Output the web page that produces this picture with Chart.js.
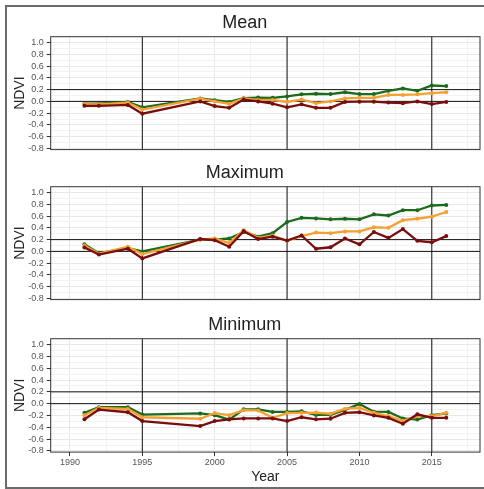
<!DOCTYPE html>
<html>
<head>
<meta charset="utf-8">
<script src="https://cdn.jsdelivr.net/npm/chart.js@4.4.1/dist/chart.umd.min.js"></script>
<style>
  body { margin: 0; background: #fff; width: 484px; height: 489px; overflow: hidden; position: relative; }
  #frame { position: absolute; left: 5px; top: 5px; width: 482px; height: 480px; border: 2px solid #6b6b6b; }
  canvas { position: absolute; left: 7px; }
</style>
</head>
<body>
<div id="frame"></div>
<canvas id="c-mean"></canvas>
<canvas id="c-max"></canvas>
<canvas id="c-min"></canvas>
<script>
// Годы наблюдений
const years = [1991, 1992, 1994, 1995, 1999, 2000, 2001, 2002, 2003, 2004, 2005,
               2006, 2007, 2008, 2009, 2010, 2011, 2012, 2013, 2014, 2015, 2016];

// Mean
const meanGreen  = [-0.04, -0.04, -0.01, -0.10, 0.05, 0.02, -0.01, 0.055, 0.065, 0.06, 0.085,
                    0.12, 0.13, 0.125, 0.155, 0.125, 0.125, 0.18, 0.22, 0.18, 0.27, 0.26];
const meanOrange = [-0.045, -0.05, -0.02, -0.14, 0.045, 0.0, -0.04, 0.05, 0.025, 0.025, -0.01,
                    0.03, -0.03, 0.0, 0.05, 0.06, 0.06, 0.11, 0.11, 0.12, 0.14, 0.155];
const meanRed    = [-0.075, -0.075, -0.06, -0.21, 0.0, -0.08, -0.11, 0.03, 0.0, -0.04, -0.10,
                    -0.05, -0.11, -0.11, -0.01, -0.005, -0.005, -0.02, -0.03, 0.0, -0.045, -0.01];

// Maximum
const maxGreen  = [0.12, -0.03, 0.055, 0.0, 0.2, 0.2, 0.22, 0.33, 0.25, 0.31, 0.5,
                   0.57, 0.56, 0.545, 0.555, 0.545, 0.63, 0.61, 0.70, 0.70, 0.78, 0.79];
const maxOrange = [0.10, -0.04, 0.08, -0.045, 0.2, 0.22, 0.14, 0.36, 0.23, 0.27, 0.18,
                   0.26, 0.32, 0.31, 0.34, 0.34, 0.41, 0.40, 0.53, 0.555, 0.59, 0.67];
const maxRed    = [0.065, -0.055, 0.045, -0.12, 0.21, 0.19, 0.08, 0.345, 0.21, 0.25, 0.185,
                   0.27, 0.045, 0.07, 0.22, 0.12, 0.33, 0.23, 0.38, 0.18, 0.155, 0.26];

// Minimum
const minGreen  = [-0.155, -0.06, -0.06, -0.185, -0.165, -0.195, -0.27, -0.095, -0.095, -0.14, -0.14,
                   -0.13, -0.19, -0.19, -0.105, -0.005, -0.135, -0.14, -0.25, -0.27, -0.195, -0.165];
const minOrange = [-0.195, -0.07, -0.09, -0.23, -0.255, -0.16, -0.195, -0.11, -0.115, -0.24, -0.16,
                   -0.155, -0.15, -0.17, -0.085, -0.07, -0.155, -0.21, -0.29, -0.21, -0.21, -0.155];
const minRed    = [-0.265, -0.10, -0.145, -0.295, -0.38, -0.295, -0.265, -0.25, -0.25, -0.25, -0.295,
                   -0.23, -0.265, -0.255, -0.155, -0.145, -0.20, -0.24, -0.34, -0.18, -0.24, -0.24];

// Оси и опорные линии
const yTicks = [-0.8, -0.6, -0.4, -0.2, 0.0, 0.2, 0.4, 0.6, 0.8, 1.0];
const xTicks = [1990, 1995, 2000, 2005, 2010, 2015];
const refYears = [1995, 2005, 2015];
const refLevels = [0, 0.2];

const colors = { green: '#1c6b1c', orange: '#f4a134', red: '#7a0d0d' };
const FONT = '"Liberation Sans", Arial, sans-serif';

// опорные линии + рамка панели
const refPlugin = {
    id: 'refLines',
    beforeDatasetsDraw(chart) {
        const { ctx, chartArea: a, scales: { x, y } } = chart;
        ctx.save();
        ctx.strokeStyle = '#111';
        ctx.lineWidth = 1;
        refYears.forEach(yr => {
            const px = x.getPixelForValue(yr);
            ctx.beginPath(); ctx.moveTo(px, a.top); ctx.lineTo(px, a.bottom); ctx.stroke();
        });
        refLevels.forEach(v => {
            const py = y.getPixelForValue(v);
            ctx.beginPath(); ctx.moveTo(a.left, py); ctx.lineTo(a.right, py); ctx.stroke();
        });
        ctx.strokeStyle = '#333';
        ctx.strokeRect(a.left, a.top, a.right - a.left, a.bottom - a.top);
        ctx.restore();
    }
};

function series(vals, color) {
    return {
        data: years.map((yr, i) => ({ x: yr, y: vals[i] })),
        borderColor: color,
        backgroundColor: color,
        borderWidth: 2.3,
        pointRadius: 2,
        pointBorderWidth: 0,
        tension: 0
    };
}

function makePanel(id, top, height, title, data, showX) {
    const el = document.getElementById(id);
    el.width = 477; el.height = height;
    el.style.top = top + 'px';
    el.style.width = '477px'; el.style.height = height + 'px';

    const xHeight = height - 28.7 - 113.4;
    const minorX = [];
    for (let i = 0; i <= 11; i++) minorX.push(1990 + i * 2.5);
    const yAll = [];
    for (let i = -8; i <= 10; i++) yAll.push(i / 10);

    new Chart(el, {
        type: 'line',
        data: {
            datasets: [
                series(data[2], colors.red),
                series(data[1], colors.orange),
                series(data[0], colors.green)
            ]
        },
        options: {
            responsive: false,
            animation: false,
            layout: { padding: { left: 0, right: 1.7, top: 0, bottom: 0 } },
            plugins: {
                legend: { display: false },
                tooltip: { enabled: false },
                title: {
                    display: true,
                    text: title,
                    color: '#222',
                    font: { family: FONT, size: 18, weight: 'normal' },
                    padding: { top: 4.5, bottom: 2.6 }
                }
            },
            scales: {
                x: {
                    type: 'linear',
                    min: 1988.67,
                    max: 2018.33,
                    afterBuildTicks: s => { s.ticks = minorX.map(v => ({ value: v })); },
                    afterFit: s => { s.height = xHeight; },
                    border: { display: false },
                    grid: {
                        color: c => (c.tick && c.tick.value % 5 === 0) ? '#e8e8e8' : '#f2f2f2',
                        tickColor: c => (showX && c.tick && c.tick.value % 5 === 0) ? '#333' : 'rgba(0,0,0,0)',
                        tickLength: 4,
                        drawTicks: true
                    },
                    ticks: {
                        display: showX,
                        autoSkip: false,
                        maxRotation: 0,
                        padding: 1.5,
                        color: '#555',
                        font: { family: FONT, size: 9 },
                        callback: v => xTicks.includes(v) ? String(v) : ''
                    },
                    title: {
                        display: showX,
                        text: 'Year',
                        color: '#222',
                        font: { family: FONT, size: 14 },
                        padding: { top: 0, bottom: 2.1 }
                    }
                },
                y: {
                    min: -0.82,
                    max: 1.1,
                    afterBuildTicks: s => { s.ticks = yAll.map(v => ({ value: v })); },
                    afterFit: s => { s.width = 43.7; },
                    border: { display: false },
                    grid: {
                        color: c => (c.tick && Math.round(c.tick.value * 10) % 2 === 0) ? '#e8e8e8' : '#f2f2f2',
                        tickColor: c => (c.tick && Math.round(c.tick.value * 10) % 2 === 0) ? '#333' : 'rgba(0,0,0,0)',
                        tickLength: 4
                    },
                    ticks: {
                        autoSkip: false,
                        padding: 3,
                        color: '#555',
                        font: { family: FONT, size: 9 },
                        callback: v => {
                            const k = Math.round(v * 10);
                            return k % 2 === 0 ? (k / 10).toFixed(1) : '';
                        }
                    },
                    title: {
                        display: true,
                        text: 'NDVI',
                        color: '#222',
                        font: { family: FONT, size: 14 },
                        padding: { top: 4.6, bottom: 0 }
                    }
                }
            }
        },
        plugins: [refPlugin]
    });
}

makePanel('c-mean', 8, 150, 'Mean', [meanGreen, meanOrange, meanRed], false);
makePanel('c-max', 158, 150, 'Maximum', [maxGreen, maxOrange, maxRed], false);
makePanel('c-min', 309.6, 178, 'Minimum', [minGreen, minOrange, minRed], true);
</script>
</body>
</html>
